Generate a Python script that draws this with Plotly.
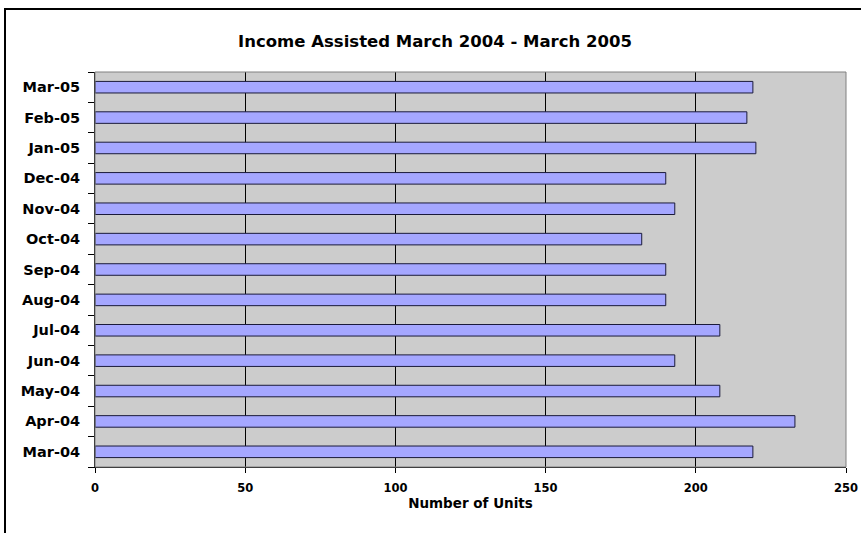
import plotly.graph_objects as go

months = ["Mar-04", "Apr-04", "May-04", "Jun-04", "Jul-04", "Aug-04", "Sep-04",
          "Oct-04", "Nov-04", "Dec-04", "Jan-05", "Feb-05", "Mar-05"]
units = [219, 233, 208, 193, 208, 190, 190, 182, 193, 190, 220, 217, 219]

W, H = 861, 533
L, R, T, B = 95, 15, 72, 66
pw, ph = W - L - R, H - T - B

def px_x(p):
    return (p - L) / pw

def px_y(p):
    return (H - B - p) / ph

font = "DejaVu Sans, Liberation Sans, Arial, sans-serif"

fig = go.Figure()
fig.add_trace(go.Bar(
    y=months, x=units, orientation="h", width=0.38,
    marker=dict(color="#A5A7FF", line=dict(color="#1a1a3a", width=1)),
    showlegend=False, hoverinfo="x+y",
))

fig.update_layout(
    width=W, height=H,
    margin=dict(l=L, r=R, t=T, b=B, autoexpand=False),
    paper_bgcolor="white", plot_bgcolor="#CCCCCC",
    font=dict(family=font, color="black"),
    title=dict(text="<b>Income Assisted March 2004 - March 2005</b>",
               x=px_x(435), xref="paper", y=1 - 41 / H, yref="container",
               xanchor="center", yanchor="middle",
               font=dict(size=16.5, family=font, color="black")),
    xaxis=dict(range=[0, 250], dtick=50, showgrid=True, gridcolor="black", gridwidth=1,
               zeroline=False, showline=True, linecolor="black", linewidth=1,
               ticks="outside", ticklen=5, tickcolor="black",
               tickfont=dict(size=11.5, family=font, weight="bold"),
               ticklabelstandoff=5,
               title=dict(text="<b>Number of Units</b>", standoff=4,
                          font=dict(size=13.5, family=font))),
    yaxis=dict(type="category", tickson="boundaries", showgrid=False,
               showline=True, linecolor="black", linewidth=1,
               ticks="outside", ticklen=6, tickcolor="black",
               tickfont=dict(size=14.5, family=font, weight="bold"),
               ticklabelstandoff=11),
    shapes=[
        dict(type="rect", xref="paper", yref="paper", x0=0, x1=1, y0=0, y1=1,
             line=dict(color="#808080", width=1), layer="above"),
        dict(type="rect", xref="paper", yref="paper",
             x0=px_x(5), x1=px_x(880), y0=px_y(550), y1=px_y(9),
             line=dict(color="black", width=2), layer="above"),
    ],
)

fig.write_html("out.html")
